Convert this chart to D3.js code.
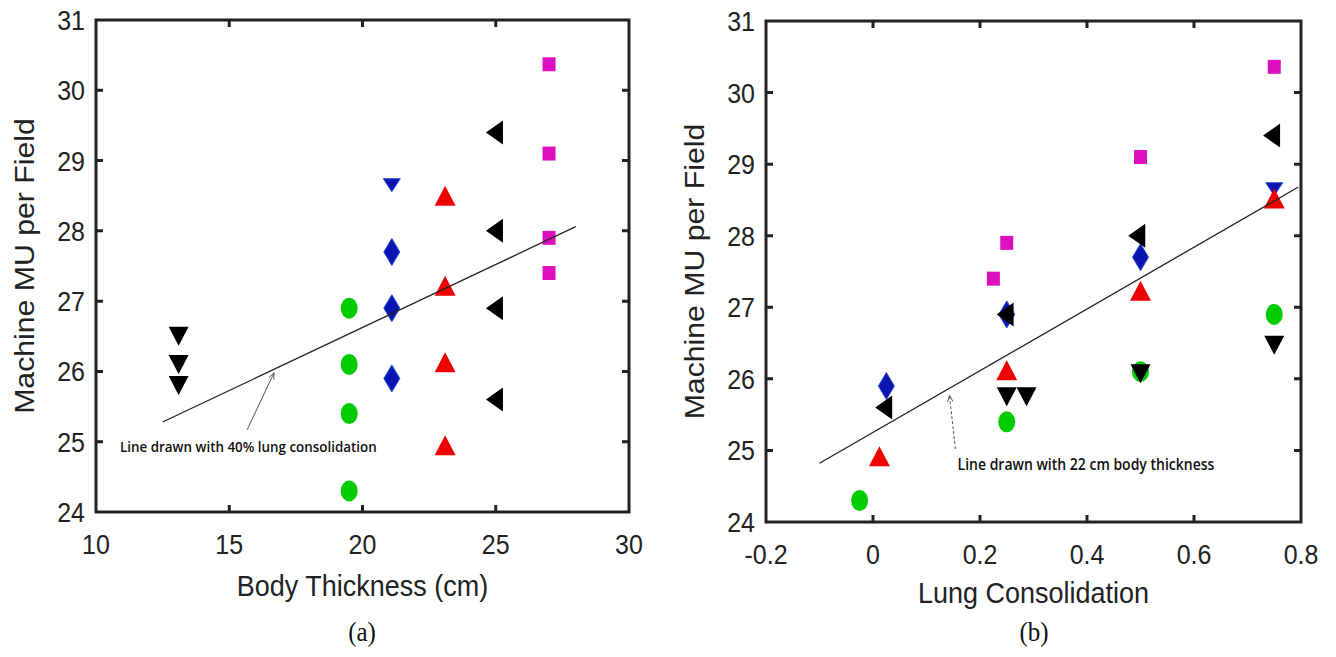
<!DOCTYPE html>
<html>
<head>
<meta charset="utf-8">
<script src="https://cdn.jsdelivr.net/npm/d3@7"></script>
<style>
  body { margin: 0; background: #fff; }
  svg { display: block; }
  .tick-label { font-family: "Liberation Sans", Arial, sans-serif; font-size: 25px; fill: #222; }
  .axis-title { font-family: "Liberation Sans", Arial, sans-serif; font-size: 27px; fill: #222; }
  .panel-tag { font-family: "Liberation Serif", "Times New Roman", serif; font-size: 25px; fill: #111; }
  .note { font-family: "Open Sans", "Lato", sans-serif; font-weight: 600; fill: #111; }
</style>
</head>
<body>
<div id="chart"></div>
<script>
/***** Tick values  ******/
var bodyTicks = [10, 15, 20, 25, 30];
var lungTicks = [-0.2, 0, 0.2, 0.4, 0.6, 0.8];
var muTicks = [24, 25, 26, 27, 28, 29, 30, 31];

/***** Panel (a): MU against body thickness  ******/
var aCircles  = [[19.5, 26.9], [19.5, 26.1], [19.5, 25.4], [19.5, 24.3]];
var aDiamonds = [[21.1, 27.7], [21.1, 26.9], [21.1, 25.9]];
var aBlueDown = [[21.1, 28.65]];
var aUp       = [[23.1, 28.5], [23.1, 27.22], [23.1, 26.13], [23.1, 24.95]];
var aLeft     = [[24.95, 29.4], [24.95, 28.0], [24.95, 26.9], [24.95, 25.6]];
var aDown     = [[13.1, 26.5], [13.1, 26.1], [13.1, 25.8]];
var aSquares  = [[27.0, 30.37], [27.0, 29.1], [27.0, 27.9], [27.0, 27.4]];
var aFit      = [[12.5, 25.28], [28.0, 28.06]];
var aArrow    = [[15.67, 25.17], [16.68, 25.98]];

/***** Panel (b): MU against lung consolidation  ******/
var bCircles  = [[-0.025, 24.3], [0.25, 25.4], [0.5, 26.1], [0.75, 26.9]];
var bDiamonds = [[0.025, 25.9], [0.25, 26.9], [0.5, 27.7]];
var bBlueDown = [[0.75, 28.65]];
var bUp       = [[0.012, 24.92], [0.25, 26.12], [0.5, 27.23], [0.75, 28.52]];
var bLeft     = [[0.02, 25.6], [0.247, 26.9], [0.493, 28.0], [0.745, 29.4]];
var bDown     = [[0.25, 25.75], [0.287, 25.75], [0.5, 26.07], [0.75, 26.47]];
var bSquares  = [[0.225, 27.4], [0.25, 27.9], [0.5, 29.1], [0.75, 30.36]];
var bFit      = [[-0.1, 24.82], [0.795, 28.68]];
var bArrow    = [[0.154, 25.02], [0.143, 25.77]];

var W = 1336, H = 657;
var stretch = 1.12;   // source figure is slightly stretched vertically

var svg = d3.select("#chart").append("svg")
            .attr("width", W)
            .attr("height", H);

/***** Marker shapes: centred on 0,0  ******/
function shapePath(kind, w, h) {
    var a = w / 2, b = h / 2;
    if (kind == "down")  return "M" + (-a) + "," + (-b) + "L" + a + "," + (-b) + "L0," + b + "Z";
    if (kind == "up")    return "M" + (-a) + "," + b + "L" + a + "," + b + "L0," + (-b) + "Z";
    if (kind == "left")  return "M" + a + "," + (-b) + "L" + a + "," + b + "L" + (-a) + ",0Z";
    if (kind == "diamond") return "M0," + (-b) + "L" + a + ",0L0," + b + "L" + (-a) + ",0Z";
    if (kind == "square") return "M" + (-a) + "," + (-b) + "H" + a + "V" + b + "H" + (-a) + "Z";
    return "";
}

var markerStyles = [
    { key: "circles",  kind: "circle",  w: 17, h: 21, fill: "#00cc00" },
    { key: "diamonds", kind: "diamond", w: 16, h: 27, fill: "#0a14b0", stroke: "#2a50d0" },
    { key: "blueDown", kind: "down",    w: 17, h: 13, fill: "#0a14b0", stroke: "#2a50d0" },
    { key: "up",       kind: "up",      w: 21, h: 20, fill: "#f00000" },
    { key: "left",     kind: "left",    w: 17, h: 24, fill: "#000" },
    { key: "down",     kind: "down",    w: 20, h: 19, fill: "#000" },
    { key: "squares",  kind: "square",  w: 13, h: 14, fill: "#dd10c0" }
];

function tallText(px, py) {
    return "translate(" + px + "," + py + ") scale(1," + stretch + ")";
}

function drawPanel(cfg) {
    var x = d3.scaleLinear().domain(cfg.xDomain).range(cfg.xRange);
    var y = d3.scaleLinear().domain([24, 31]).range(cfg.yRange);
    var g = svg.append("g");

    var x0 = cfg.xRange[0], x1 = cfg.xRange[1];
    var y0 = cfg.yRange[1], y1 = cfg.yRange[0];
    var tl = 7;

    // inner ticks on all four sides, matlab box style
    var innerX = cfg.xTicks.slice(1, -1);
    var innerY = muTicks.slice(1, -1);
    g.selectAll(".xt").data(innerX).enter().append("path")
     .attr("d", function(d) { var px = x(d); return "M" + px + "," + y1 + "v" + (-tl) + "M" + px + "," + y0 + "v" + tl; })
     .attr("stroke", "#222").attr("stroke-width", 3);
    g.selectAll(".yt").data(innerY).enter().append("path")
     .attr("d", function(d) { var py = y(d); return "M" + x0 + "," + py + "h" + tl + "M" + x1 + "," + py + "h" + (-tl); })
     .attr("stroke", "#222").attr("stroke-width", 3);

    g.append("rect")
     .attr("x", x0).attr("y", y0)
     .attr("width", x1 - x0).attr("height", y1 - y0)
     .attr("fill", "none").attr("stroke", "#222").attr("stroke-width", 3);

    // tick labels
    g.selectAll(".xl").data(cfg.xTicks).enter().append("text")
     .attr("class", "tick-label")
     .attr("transform", function(d) { return tallText(x(d), y1 + 42); })
     .attr("text-anchor", "middle")
     .text(function(d) { return d; });
    g.selectAll(".yl").data(muTicks).enter().append("text")
     .attr("class", "tick-label")
     .attr("transform", function(d) { return tallText(x0 - 11, y(d) + 10); })
     .attr("text-anchor", "end")
     .text(function(d) { return d; });

    // axis titles
    g.append("text")
     .attr("class", "axis-title")
     .attr("transform", tallText((x0 + x1) / 2, y1 + cfg.xTitleDy))
     .attr("text-anchor", "middle")
     .text(cfg.xTitle);
    g.append("text")
     .attr("class", "axis-title")
     .attr("transform", "translate(" + (x0 - 62) + "," + ((y0 + y1) / 2) + ") rotate(-90) scale(" + stretch + ",1)")
     .attr("text-anchor", "middle")
     .text("Machine MU per Field");

    g.append("text")
     .attr("class", "panel-tag")
     .attr("transform", tallText(cfg.tagX, 641))
     .attr("text-anchor", "middle")
     .text(cfg.tag);

    // markers
    markerStyles.forEach(function(m) {
        var pts = cfg.series[m.key];
        var sel = g.selectAll(".m-" + m.key).data(pts).enter();
        if (m.kind == "circle") {
            sel.append("ellipse")
               .attr("cx", function(d) { return x(d[0]); })
               .attr("cy", function(d) { return y(d[1]); })
               .attr("rx", m.w / 2).attr("ry", m.h / 2)
               .attr("fill", m.fill);
        } else {
            sel.append("path")
               .attr("transform", function(d) { return "translate(" + x(d[0]) + "," + y(d[1]) + ")"; })
               .attr("d", shapePath(m.kind, m.w, m.h))
               .attr("fill", m.fill)
               .attr("stroke", m.stroke || "none")
               .attr("stroke-width", m.stroke ? 1 : 0);
        }
    });

    // fitted line
    g.append("line")
     .attr("x1", x(cfg.fit[0][0])).attr("y1", y(cfg.fit[0][1]))
     .attr("x2", x(cfg.fit[1][0])).attr("y2", y(cfg.fit[1][1]))
     .attr("stroke", "#222").attr("stroke-width", 1.3);

    // arrow to the line
    var ax0 = x(cfg.arrow[0][0]), ay0 = y(cfg.arrow[0][1]);
    var ax1 = x(cfg.arrow[1][0]), ay1 = y(cfg.arrow[1][1]);
    g.append("line")
     .attr("x1", ax0).attr("y1", ay0).attr("x2", ax1).attr("y2", ay1)
     .attr("stroke", "#555").attr("stroke-width", 1)
     .attr("stroke-dasharray", cfg.dashed ? "3,2" : null);
    var ang = Math.atan2(ay1 - ay0, ax1 - ax0);
    var hl = 7, spread = 0.4;
    g.append("path")
     .attr("d", "M" + (ax1 - hl * Math.cos(ang - spread)) + "," + (ay1 - hl * Math.sin(ang - spread)) +
                "L" + ax1 + "," + ay1 +
                "L" + (ax1 - hl * Math.cos(ang + spread)) + "," + (ay1 - hl * Math.sin(ang + spread)))
     .attr("fill", "none").attr("stroke", "#555").attr("stroke-width", 1);

    g.append("text")
     .attr("class", "note")
     .attr("transform", tallText(x(cfg.noteAt[0]), y(cfg.noteAt[1])))
     .style("font-size", cfg.noteSize + "px")
     .text(cfg.note);
}

drawPanel({
    xDomain: [10, 30], xRange: [96, 629], yRange: [512, 20],
    xTicks: bodyTicks,
    xTitle: "Body Thickness (cm)", xTitleDy: 84,
    tag: "(a)", tagX: 362,
    series: { circles: aCircles, diamonds: aDiamonds, blueDown: aBlueDown, up: aUp,
              left: aLeft, down: aDown, squares: aSquares },
    fit: aFit, arrow: aArrow, dashed: false,
    note: "Line drawn with 40% lung consolidation", noteAt: [10.9, 24.85], noteSize: 13.4
});

drawPanel({
    xDomain: [-0.2, 0.8], xRange: [766, 1301], yRange: [522, 21],
    xTicks: lungTicks,
    xTitle: "Lung Consolidation", xTitleDy: 81,
    tag: "(b)", tagX: 1034,
    series: { circles: bCircles, diamonds: bDiamonds, blueDown: bBlueDown, up: bUp,
              left: bLeft, down: bDown, squares: bSquares },
    fit: bFit, arrow: bArrow, dashed: true,
    note: "Line drawn with 22 cm body thickness", noteAt: [0.158, 24.73], noteSize: 14
});
</script>
</body>
</html>
